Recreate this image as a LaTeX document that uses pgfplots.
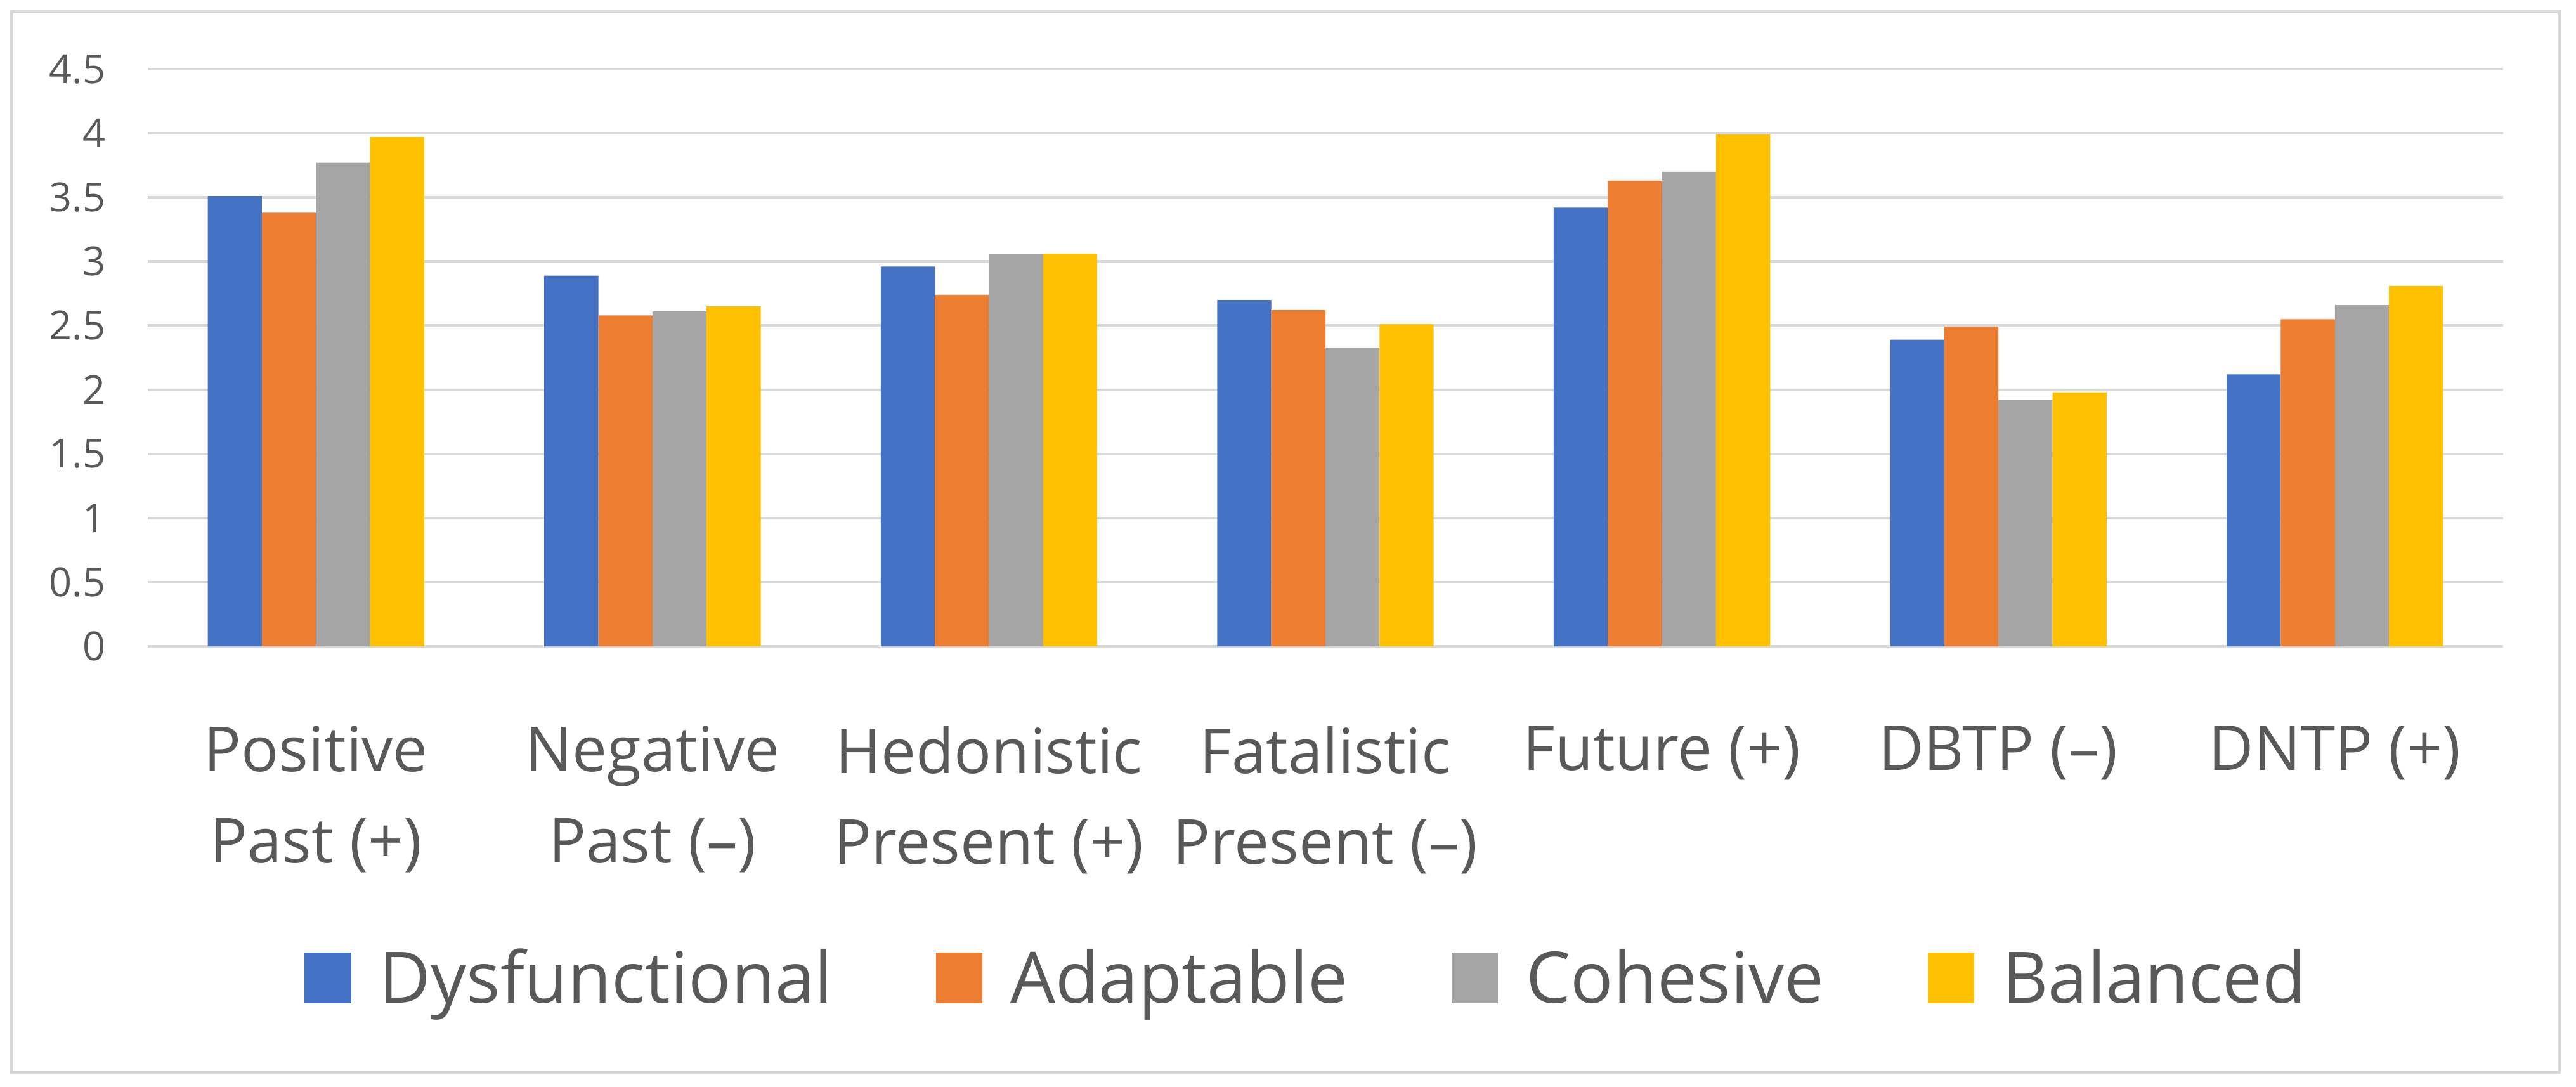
\documentclass[border=0pt]{standalone}
\usepackage{pgfplots}
\pgfplotsset{compat=1.18}
\usepackage{fontspec}
\setmainfont{Open Sans}

\definecolor{cblue}{HTML}{4472C4}
\definecolor{corange}{HTML}{ED7D31}
\definecolor{cgray}{HTML}{A5A5A5}
\definecolor{cyellow}{HTML}{FFC000}
\definecolor{gridgray}{HTML}{D9D9D9}
\definecolor{labelgray}{HTML}{595959}

\begin{document}
\begin{tikzpicture}
\useasboundingbox (-34.95pt,-104.1pt) rectangle (574.35pt,152.85pt);
\begin{axis}[
    scale only axis,
    width=557.1pt, height=136.5pt,
    xmin=-0.5, xmax=6.5, ymin=0, ymax=4.5,
    ybar=0pt, bar width=12.8pt,
    axis line style={draw=none},
    tick style={draw=none},
    ymajorgrids,
    grid style={draw=gridgray, line width=0.6pt},
    ytick={0,0.5,1,1.5,2,2.5,3,3.5,4,4.5},
    xtick={0,1,2,3,4,5,6},
    xticklabels={{Positive\\Past (+)}, {Negative\\Past (--)}, {Hedonistic\\Present (+)},
                 {Fatalistic\\Present (--)}, {Future (+)}, {DBTP (--)}, {DNTP (+)}},
    /pgf/number format/assume math mode=true,
    yticklabel style={font=\fontsize{9.45}{11}\selectfont, text=labelgray,
                      inner sep=0pt, anchor=east, xshift=-9.75pt},
    xticklabel style={font=\fontsize{14.7}{21.5}\selectfont, text=labelgray,
                      align=center, inner sep=0pt, anchor=north, yshift=-14.4pt},
    legend columns=4,
    legend style={at={(0.0662,-0.5766)}, anchor=west, draw=none, fill=none,
                  inner sep=0pt, font=\fontsize{16.8}{20}\selectfont, text=labelgray,
                  nodes={inner sep=0pt}, cells={anchor=base},
                  /tikz/every odd column/.append style={column sep=6.6pt},
                  /tikz/every even column/.append style={column sep=24.5pt}},
    legend image code/.code={\fill[#1] (0pt,0pt) rectangle (11pt,12pt);},
]
\addplot[fill=cblue, draw=none] coordinates {
    (0,3.51) (1,2.89) (2,2.96) (3,2.70) (4,3.42) (5,2.39) (6,2.12)};
\addplot[fill=corange, draw=none] coordinates {
    (0,3.38) (1,2.58) (2,2.74) (3,2.62) (4,3.63) (5,2.49) (6,2.55)};
\addplot[fill=cgray, draw=none] coordinates {
    (0,3.77) (1,2.61) (2,3.06) (3,2.33) (4,3.70) (5,1.92) (6,2.66)};
\addplot[fill=cyellow, draw=none] coordinates {
    (0,3.97) (1,2.65) (2,3.06) (3,2.51) (4,3.99) (5,1.98) (6,2.81)};
\legend{Dysfunctional, Adaptable, Cohesive, Balanced}
\end{axis}
% chart area border
\draw[gridgray, line width=0.75pt] (-32.1pt,-100.65pt) rectangle (570.3pt,150pt);
\end{tikzpicture}
\end{document}
